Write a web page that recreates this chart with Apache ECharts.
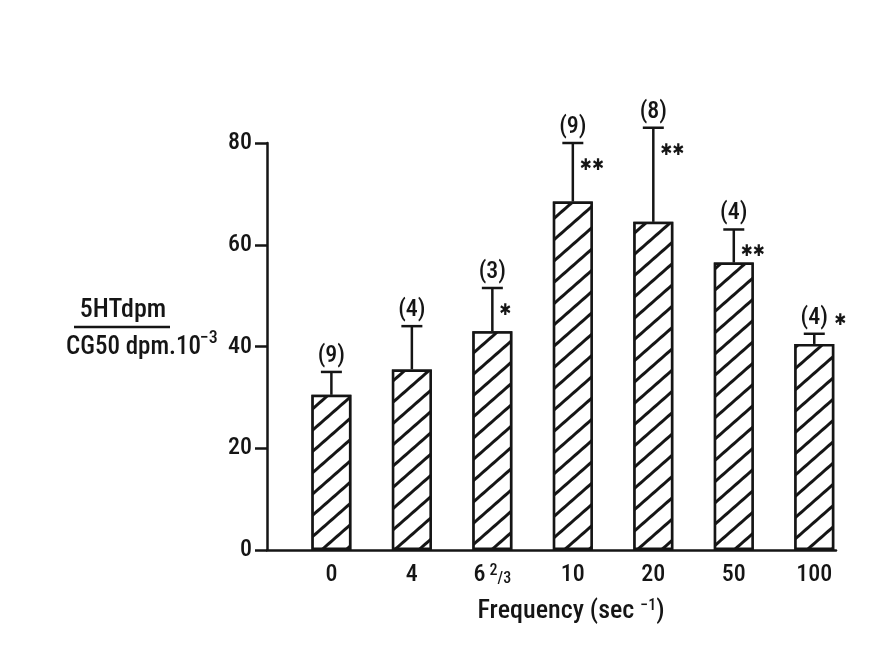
<!DOCTYPE html>
<html><head><meta charset="utf-8">
<script src="https://cdn.jsdelivr.net/npm/echarts@6/dist/echarts.min.js"></script>
<style>html,body{margin:0;padding:0;background:#fff}#c{width:874px;height:663px}</style>
</head><body><div id="c"></div>
<script>
// ---- data ----
const categories = ['0', '4', '6 2/3', '10', '20', '50', '100'];
const means      = [30.5, 35.5, 43, 68.5, 64.5, 56.5, 40.5];
const upperErr   = [35, 44, 51.5, 80, 83, 63, 42.5];
const nLabels    = ['(9)', '(4)', '(3)', '(9)', '(8)', '(4)', '(4)'];
const stars      = ['', '', '*', '**', '**', '**', '*'];
const yTicks     = [0, 20, 40, 60, 80];

const FONT = "'Roboto Condensed','Liberation Sans Narrow','DejaVu Sans Condensed',sans-serif";
const INK = '#151515';
const W = '500 ';

const chart = echarts.init(document.getElementById('c'), null, {renderer: 'canvas'});

const barData = means.map((v, i) => [i, v]);
const errData = means.map((v, i) => [i, v, upperErr[i]]);

function fmtCat(v) {
  const c = categories[Math.round(v)];
  if (c === '6 2/3') return '6{sup|2}{sub|/3}';
  return c;
}

const option = {
  backgroundColor: '#ffffff',
  animation: false,
  textStyle: {fontFamily: FONT, color: INK},
  grid: {left: 267, right: 38, top: 143, bottom: 113},
  xAxis: {
    type: 'value',
    min: -0.8, max: 6.27,
    splitLine: {show: false},
    axisLine: {show: true, onZero: false, lineStyle: {color: INK, width: 2.5}},
    axisTick: {show: false},
    axisLabel: {
      customValues: categories.map((c, i) => i),
      formatter: fmtCat,
      fontFamily: FONT, fontSize: 24, fontWeight: 500, color: INK, margin: 13,
      rich: {
        sup: {fontFamily: FONT, fontSize: 16, fontWeight: 500, color: INK, verticalAlign: 'top', padding: [0, 0, 0, 4]},
        sub: {fontFamily: FONT, fontSize: 16, fontWeight: 500, color: INK, verticalAlign: 'bottom'}
      }
    }
  },
  yAxis: {
    type: 'value',
    min: yTicks[0], max: yTicks[yTicks.length - 1], interval: 20,
    splitLine: {show: false},
    axisLine: {show: true, onZero: false, lineStyle: {color: INK, width: 2.5}},
    axisTick: {show: true, inside: false, length: 12, lineStyle: {color: INK, width: 2.5}},
    axisLabel: {fontFamily: FONT, fontSize: 24, fontWeight: 500, color: INK, margin: 15}
  },
  series: [
    {
      type: 'bar',
      data: barData,
      barWidth: 40,
      itemStyle: {
        color: '#ffffff',
        borderColor: INK,
        borderWidth: 2.5,
        decal: {
          symbol: 'rect',
          symbolSize: 1,
          color: INK,
          backgroundColor: '#ffffff',
          dashArrayX: [1, 0],
          dashArrayY: [2.2, 13],
          rotation: -0.72
        }
      },
      z: 2
    },
    {
      type: 'custom',
      data: errData,
      z: 3,
      renderItem: function (params, api) {
        const idx = params.dataIndex;
        const i = api.value(0);
        const base = api.coord([i, api.value(1)]);
        const top = api.coord([i, api.value(2)]);
        const x = base[0];
        const children = [
          {type: 'line', shape: {x1: x, y1: base[1], x2: x, y2: top[1]}, style: {stroke: INK, lineWidth: 2.5}},
          {type: 'line', shape: {x1: x - 10.5, y1: top[1], x2: x + 10.5, y2: top[1]}, style: {stroke: INK, lineWidth: 2.5}},
          {type: 'text', x: x, y: top[1] - 16,
            style: {text: nLabels[idx], fill: INK, font: W + '24px ' + FONT, align: 'center', verticalAlign: 'middle'}}
        ];
        const s = stars[idx];
        if (s) {
          const txt = s.replace(/\*/g, '\u2731');
          const shortErr = (base[1] - top[1]) < 28;
          if (shortErr) {
            children.push({type: 'text', x: x + 20, y: top[1] - 13,
              style: {text: txt, fill: INK, font: 'bold 16px ' + FONT, align: 'left', verticalAlign: 'middle'}});
          } else {
            children.push({type: 'text', x: x + 7, y: top[1] + 23,
              style: {text: txt, fill: INK, font: 'bold 16px ' + FONT, align: 'left', verticalAlign: 'middle'}});
          }
        }
        return {type: 'group', children: children};
      }
    }
  ],
  graphic: [
    {type: 'text', x: 123, y: 310, style: {text: '5HTdpm', font: W + '26px ' + FONT, fill: INK, align: 'center', verticalAlign: 'middle'}},
    {type: 'line', shape: {x1: 74, y1: 327, x2: 170, y2: 327}, style: {stroke: INK, lineWidth: 2.5}},
    {type: 'text', x: 66, y: 348, style: {text: 'CG50 dpm.10', font: W + '25px ' + FONT, fill: INK, align: 'left', verticalAlign: 'middle'}},
    {type: 'text', x: 200, y: 338, style: {text: '\u22123', font: W + '18px ' + FONT, fill: INK, align: 'left', verticalAlign: 'middle'}},
    {type: 'text', x: 571, y: 611,
      style: {
        text: 'Frequency (sec {sup|\u22121})',
        font: W + '26px ' + FONT, fill: INK, align: 'center', verticalAlign: 'middle',
        rich: {sup: {font: W + '16px ' + FONT, fill: INK, verticalAlign: 'top'}}
      }
    }
  ]
};
chart.setOption(option);
</script>
</body></html>
